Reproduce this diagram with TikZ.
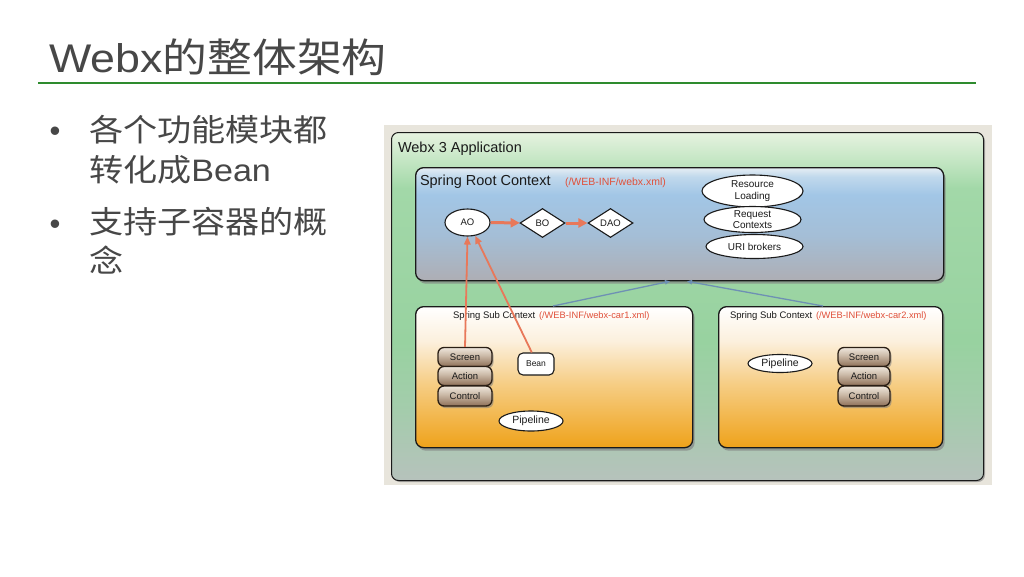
\documentclass[tikz,border=0pt]{standalone}
\usepackage{fontspec}
\usepackage{graphicx}
\setmainfont{Liberation Sans}
\newfontfamily\cjk{Noto Sans CJK SC}
\usetikzlibrary{shapes.geometric,arrows.meta,shadows,calc}

\definecolor{slidegrey}{HTML}{474747}
\definecolor{rulegreen}{HTML}{2E8B2E}
\definecolor{framebeige}{HTML}{E8E5DC}
\definecolor{pathred}{HTML}{E0503A}
\definecolor{arrred}{HTML}{E8785A}
\definecolor{lineblue}{HTML}{6E90B4}
\definecolor{tipblue}{HTML}{3C4CA8}
\definecolor{ink}{HTML}{1A1A1A}
\definecolor{stkink}{HTML}{2A1E14}

\definecolor{appA}{HTML}{E6F2E0}
\definecolor{appB}{HTML}{C4E6C4}
\definecolor{appC}{HTML}{A2D8A8}
\definecolor{appD}{HTML}{98D2A0}
\definecolor{appE}{HTML}{A4CCAC}
\definecolor{appF}{HTML}{B6C2BC}

\definecolor{rootA}{HTML}{E6EEF4}
\definecolor{rootB}{HTML}{C0D8EC}
\definecolor{rootC}{HTML}{A2C6E6}
\definecolor{rootD}{HTML}{A4BED6}
\definecolor{rootE}{HTML}{AEAEB4}

\definecolor{subA}{HTML}{FFFFFF}
\definecolor{subB}{HTML}{FCF0DE}
\definecolor{subC}{HTML}{F6CE86}
\definecolor{subD}{HTML}{EFA21A}

\definecolor{stkA}{HTML}{EEE6DC}
\definecolor{stkB}{HTML}{CDBCAA}
\definecolor{stkC}{HTML}{8E7058}

\pgfdeclareverticalshading{appsh}{100bp}{color(0bp)=(appF); color(25bp)=(appF); color(35bp)=(appE); color(45bp)=(appD); color(67bp)=(appC); color(71bp)=(appB); color(75bp)=(appA); color(100bp)=(appA)}
\pgfdeclareverticalshading{rootsh}{100bp}{color(0bp)=(rootE); color(25bp)=(rootE); color(45bp)=(rootD); color(63bp)=(rootC); color(71bp)=(rootB); color(75bp)=(rootA); color(100bp)=(rootA)}
\pgfdeclareverticalshading{subsh}{100bp}{color(0bp)=(subD); color(25bp)=(subD); color(48bp)=(subC); color(63bp)=(subB); color(75bp)=(subA); color(100bp)=(subA)}
\pgfdeclareverticalshading{stksh}{100bp}{color(0bp)=(stkC); color(25bp)=(stkC); color(55bp)=(stkB); color(75bp)=(stkA); color(100bp)=(stkA)}

\tikzset{
  txt/.style={inner sep=0pt, outer sep=0pt, anchor=base west},
  slide/.style={txt, text=slidegrey, font=\fontsize{31}{40}\selectfont},
  box/.style={draw=ink, line width=1pt, inner sep=0pt, anchor=north west},
  appbox/.style={box, rounded corners=7pt, shading=appsh, drop shadow={shadow xshift=1.5pt, shadow yshift=-1.5pt, opacity=.6}},
  ctxbox/.style={box, line width=1.3pt, rounded corners=8pt, drop shadow={shadow xshift=2pt, shadow yshift=-3pt, opacity=.65}},
  rootbox/.style={ctxbox, shading=rootsh},
  subbox/.style={ctxbox, shading=subsh},
  dtitle/.style={txt, text=ink},
  dpath/.style={txt, text=pathred},
  oval/.style={ellipse, draw=ink, line width=1.1pt, fill=white, inner sep=0pt, text=ink, align=center},
  rhomb/.style={diamond, draw=ink, line width=1.1pt, fill=white, inner sep=0pt, text=ink, minimum width=45pt, minimum height=29pt, font=\fontsize{9.5}{10}\selectfont},
  stk/.style={draw=stkink, line width=1.3pt, rounded corners=6pt, shading=stksh, inner sep=0pt, text=ink, font=\fontsize{9.5}{10}\selectfont, drop shadow={shadow xshift=1.5pt, shadow yshift=-2pt, opacity=.55}},
  beanbox/.style={draw=ink, line width=1.1pt, rounded corners=5pt, fill=white, inner sep=0pt, text=ink, font=\fontsize{8.5}{10}\selectfont},
  redthick/.style={draw=arrred, line width=3pt, -{Triangle[length=9pt,width=9pt]}},
  redthin/.style={draw=arrred, line width=1.8pt, -{Triangle[length=8pt,width=6.5pt]}},
  blueline/.style={draw=lineblue, line width=1.3pt, -{Triangle[length=5pt,width=4.5pt,fill=tipblue]}},
}

\begin{document}
\begin{tikzpicture}[x=1pt,y=-1pt]
\useasboundingbox (0,0) rectangle (1024,576);
\fill[white] (0,0) rectangle (1024,576);

% slide title and rule
\node[txt, text=slidegrey] (title) at (49,72.5) {\scalebox{1.12}[1]{\fontsize{40}{48}\selectfont Webx{\cjk 的整体架构}}};
\draw[rulegreen, line width=2pt] (38,83) -- (976,83);

% bullets
\node[slide] (dot1) at (49.5,141) {•};
\node[slide] (b1a) at (89,141) {\cjk\scalebox{1.1}[1]{各个功能模块都}};
\node[slide] (b1b) at (89,181) {\scalebox{1.1}[1]{{\cjk 转化成}Bean}};
\node[slide] (dot2) at (49.5,234) {•};
\node[slide] (b2a) at (89,233) {\cjk\scalebox{1.1}[1]{支持子容器的概}};
\node[slide] (b2b) at (89,272) {\cjk\scalebox{1.1}[1]{念}};

% diagram frame
\fill[framebeige] (384,125) rectangle (992,485);

% containers
\node[appbox, minimum width=592pt, minimum height=348pt] (app) at (391,132) {};
\node[dtitle, font=\fontsize{14.5}{16}\selectfont] (apptitle) at (398,152) {Webx 3 Application};

\node[rootbox, minimum width=528pt, minimum height=113pt] (root) at (415,167) {};
\node[dtitle, font=\fontsize{14.5}{16}\selectfont] (roottitle) at (420,185) {Spring Root Context};
\node[dpath, font=\fontsize{10.5}{12}\selectfont] (rootpath) at (565,185) {(/WEB-INF/webx.xml)};

\node[subbox, minimum width=277pt, minimum height=141pt] (sub1) at (415,306) {};
\node[dtitle, font=\fontsize{9.5}{11}\selectfont] (sub1title) at (453,318) {Spring Sub Context};
\node[dpath, font=\fontsize{9.3}{11}\selectfont] (sub1path) at (539,318) {(/WEB-INF/webx-car1.xml)};

\node[subbox, minimum width=224pt, minimum height=141pt] (sub2) at (718,306) {};
\node[dtitle, font=\fontsize{9.5}{11}\selectfont] (sub2title) at (730,318) {Spring Sub Context};
\node[dpath, font=\fontsize{9.3}{11}\selectfont] (sub2path) at (816,318) {(/WEB-INF/webx-car2.xml)};

% root context beans
\node[oval, minimum width=45pt, minimum height=27pt, font=\fontsize{9.5}{10}\selectfont] (ao) at (467.5,222.5) {AO};
\node[rhomb] (bo) at (542.5,223) {BO};
\node[rhomb] (dao) at (610.5,223) {DAO};
\node[oval, minimum width=101pt, minimum height=32pt, font=\fontsize{10}{11.5}\selectfont] (res) at (752.5,191) {Resource\\Loading};
\node[oval, minimum width=97pt, minimum height=26pt, font=\fontsize{10}{11}\selectfont] (req) at (752.5,219.5) {Request\\Contexts};
\node[oval, minimum width=97pt, minimum height=24pt, font=\fontsize{10}{11}\selectfont] (uri) at (754.5,246.5) {URI brokers};

% sub context 1
\node[stk, minimum width=54pt, minimum height=19pt] (screen1) at (465,357) {Screen};
\node[stk, minimum width=54pt, minimum height=19pt] (action1) at (465,376) {Action};
\node[stk, minimum width=54pt, minimum height=20pt] (control1) at (465,396) {Control};
\node[beanbox, minimum width=36pt, minimum height=22pt] (bean) at (536,364) {Bean};
\node[oval, minimum width=64pt, minimum height=20pt, font=\fontsize{10.5}{11}\selectfont] (pipe1) at (531,421) {Pipeline};

% sub context 2
\node[oval, minimum width=64pt, minimum height=18pt, font=\fontsize{10.5}{11}\selectfont] (pipe2) at (780,363.5) {Pipeline};
\node[stk, minimum width=52pt, minimum height=19pt] (screen2) at (864,357) {Screen};
\node[stk, minimum width=52pt, minimum height=19pt] (action2) at (864,376) {Action};
\node[stk, minimum width=52pt, minimum height=20pt] (control2) at (864,396) {Control};

% connectors
\draw[redthick] (ao) -- (bo);
\draw[redthick] (bo) -- (dao);
\draw[redthin] (screen1.north) -- (ao.south);
\draw[redthin] (bean.110) -- (ao.-60);
\draw[blueline] ([xshift=138pt]sub1.north west) -- ([xshift=255pt]root.south west);
\draw[blueline] ([xshift=105pt]sub2.north west) -- ([xshift=272pt]root.south west);
\end{tikzpicture}
\end{document}
